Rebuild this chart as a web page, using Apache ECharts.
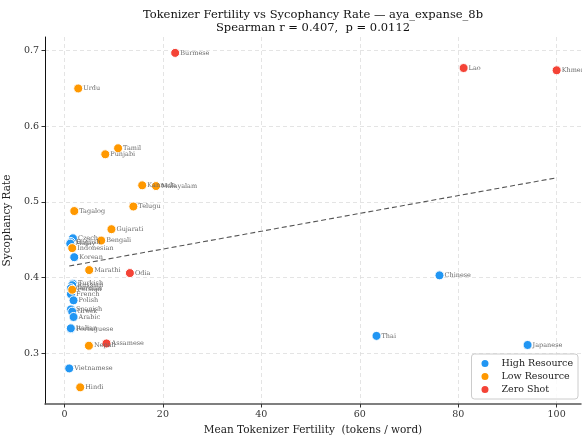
<!DOCTYPE html>
<html>
<head>
<meta charset="utf-8">
<script src="https://cdn.jsdelivr.net/npm/echarts@6/dist/echarts.min.js"></script>
<style>
    html, body {margin: 0; padding: 0; background: #fff;}
    #fertility-chart {width: 582px; height: 439px;}
</style>
</head>
<body>
<div id="fertility-chart"></div>
<script>
// languages grouped by resource level
const highNames = ['Czech', 'English', 'Malay', 'Korean', 'Turkish', 'Russian', 'German', 'French',
    'Polish', 'Spanish', 'Greek', 'Arabic', 'Portuguese', 'Italian', 'Vietnamese', 'Thai', 'Chinese', 'Japanese'];
const highFert = [1.72, 1.32, 1.18, 1.99, 1.72, 1.58, 1.32, 1.32, 1.85, 1.32, 1.58, 1.85, 1.32, 1.30, 0.97, 63.4, 76.2, 94.1];
const highSyc = [0.452, 0.447, 0.445, 0.427, 0.392, 0.390, 0.386, 0.378, 0.370, 0.358, 0.355, 0.348, 0.332, 0.333, 0.280, 0.323, 0.403, 0.311];

const lowNames = ['Urdu', 'Tamil', 'Punjabi', 'Kannada', 'Malayalam', 'Telugu', 'Tagalog', 'Gujarati',
    'Bengali', 'Indonesian', 'Marathi', 'Persian', 'Nepali', 'Hindi'];
const lowFert = [2.8, 10.9, 8.3, 15.8, 18.6, 14.0, 2.0, 9.55, 7.46, 1.58, 5.03, 1.58, 4.97, 3.2];
const lowSyc = [0.650, 0.571, 0.563, 0.522, 0.521, 0.494, 0.488, 0.464, 0.449, 0.439, 0.410, 0.384, 0.310, 0.255];

const zeroNames = ['Burmese', 'Lao', 'Khmer', 'Odia', 'Assamese'];
const zeroFert = [22.5, 81.1, 100.0, 13.3, 8.54];
const zeroSyc = [0.697, 0.677, 0.674, 0.406, 0.313];

const xTicks = [0, 20, 40, 60, 80, 100];
const yTicks = [0.3, 0.4, 0.5, 0.6, 0.7];

const groupColors = ['#2196F3', '#FF9800', '#F44336'];
const serifFont = '"DejaVu Serif", "Liberation Serif", serif';

const toPoints = (names, xs, ys) => names.map((n, i) => [xs[i], ys[i], n]);

// least squares trend over all languages
const allX = highFert.concat(lowFert, zeroFert);
const allY = highSyc.concat(lowSyc, zeroSyc);
const meanX = allX.reduce((a, b) => a + b, 0) / allX.length;
const meanY = allY.reduce((a, b) => a + b, 0) / allY.length;
let sxy = 0, sxx = 0;
allX.forEach((x, i) => {
    sxy += (x - meanX) * (allY[i] - meanY);
    sxx += (x - meanX) * (x - meanX);
});
const slope = sxy / sxx;
const icpt = meanY - slope * meanX;
const xLo = Math.min(...allX), xHi = Math.max(...allX);
const trendLine = [[xLo, icpt + slope * xLo], [xHi, icpt + slope * xHi]];

const makeScatter = (name, points, color) => ({
    name: name,
    type: 'scatter',
    data: points,
    symbolSize: 9,
    itemStyle: {color: color, borderColor: '#fff', borderWidth: 1, opacity: 1},
    label: {
        show: true,
        position: 'right',
        distance: 0,
        offset: [-1, -4],
        formatter: (p) => p.data[2],
        fontFamily: serifFont,
        fontSize: 6.5,
        color: '#6a6a6a',
    },
    labelLayout: {hideOverlap: false},
    z: 3,
});

const options = {
    animation: false,
    backgroundColor: '#fff',
    textStyle: {fontFamily: serifFont},
    graphic: [
        {
            type: 'text', x: 313, y: 9,
            style: {
                text: 'Tokenizer Fertility vs Sycophancy Rate — aya_expanse_8b',
                textAlign: 'center', fontFamily: serifFont, fontSize: 11.5, fill: '#111',
            },
        },
        {
            type: 'text', x: 313, y: 22,
            style: {
                text: 'Spearman r = 0.407,  p = 0.0112',
                textAlign: 'center', fontFamily: serifFont, fontSize: 11.5, fill: '#111',
            },
        },
    ],
    grid: {left: 45, right: 1, top: 37, bottom: 35, containLabel: false, outerBoundsMode: 'none'},
    xAxis: {
        type: 'value',
        min: -3.95,
        max: 104.95,
        name: 'Mean Tokenizer Fertility  (tokens / word)',
        nameLocation: 'middle',
        nameGap: 18,
        nameTextStyle: {fontFamily: serifFont, fontSize: 10.5, color: '#222'},
        axisLine: {show: true, onZero: false, lineStyle: {color: '#555', width: 1.5}},
        axisTick: {show: true, length: 3.5, customValues: xTicks, lineStyle: {color: '#333'}},
        axisLabel: {customValues: xTicks, fontFamily: serifFont, fontSize: 9.5, color: '#333', margin: 6},
        splitLine: {show: true, lineStyle: {color: '#ddd', type: [4, 3], width: 0.8}},
    },
    yAxis: {
        type: 'value',
        min: 0.233,
        max: 0.718,
        name: 'Sycophancy Rate',
        nameLocation: 'middle',
        nameGap: 31,
        nameTextStyle: {fontFamily: serifFont, fontSize: 10.5, color: '#222'},
        axisLine: {show: true, onZero: false, lineStyle: {color: '#111', width: 1}},
        axisTick: {show: true, length: 3.5, customValues: yTicks, lineStyle: {color: '#333'}},
        axisLabel: {
            customValues: yTicks, fontFamily: serifFont, fontSize: 9.5, color: '#333', margin: 6,
            formatter: (v) => v.toFixed(1),
        },
        splitLine: {show: true, lineStyle: {color: '#ddd', type: [4, 3], width: 0.8}},
    },
    legend: {
        data: ['High Resource', 'Low Resource', 'Zero Shot'],
        orient: 'vertical',
        right: 4,
        top: 354,
        itemWidth: 9,
        itemHeight: 9,
        itemGap: 2,
        icon: 'circle',
        padding: [4, 5, 4, 8],
        borderColor: '#ccc',
        borderWidth: 1,
        borderRadius: 3,
        backgroundColor: 'rgba(255,255,255,0.85)',
        textStyle: {fontFamily: serifFont, fontSize: 9.5, lineHeight: 10, color: '#222', padding: [0, 0, 0, 7]},
    },
    series: [
        makeScatter('High Resource', toPoints(highNames, highFert, highSyc), groupColors[0]),
        makeScatter('Low Resource', toPoints(lowNames, lowFert, lowSyc), groupColors[1]),
        makeScatter('Zero Shot', toPoints(zeroNames, zeroFert, zeroSyc), groupColors[2]),
        {
            name: 'trend',
            type: 'line',
            data: trendLine,
            symbol: 'none',
            lineStyle: {color: '#555', width: 1.1, type: [5, 3]},
            z: 2,
            silent: true,
        },
    ],
};

const chartBox = document.getElementById('fertility-chart');
let fertilityChart = echarts.getInstanceByDom(chartBox);
if (!fertilityChart) {
    fertilityChart = echarts.init(chartBox);
}
fertilityChart.setOption(options);
</script>
</body>
</html>
